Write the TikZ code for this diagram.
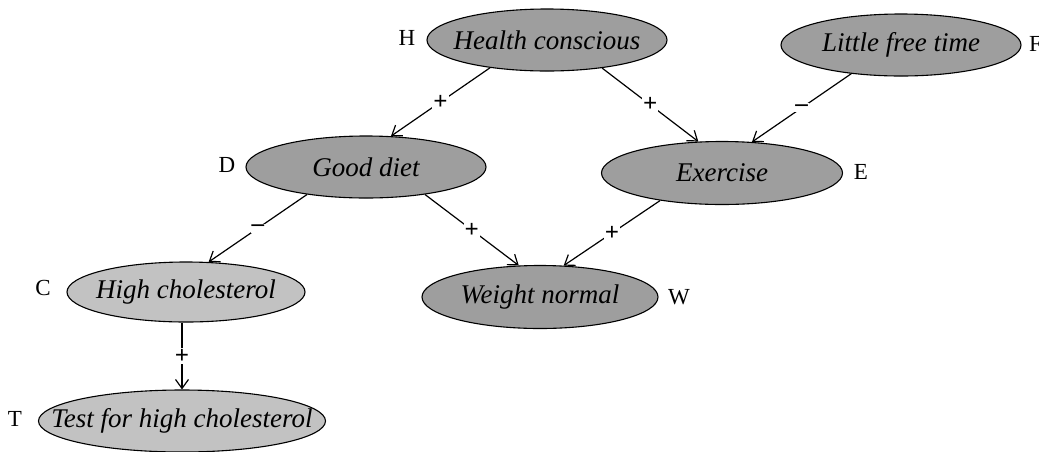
\documentclass[tikz,border=0pt]{standalone}
\usepackage{fontspec}
\setmainfont{Liberation Serif}
\usetikzlibrary{shapes.geometric,arrows.meta}
\begin{document}
\begin{tikzpicture}[x=1pt,y=-1pt,
  ell/.style={ellipse,draw=black,line width=1.1pt,minimum width=240pt,minimum height=62pt,inner sep=0pt},
  dark/.style={fill=black!38},
  light/.style={fill=black!24},
  nm/.style={font=\fontsize{27}{30}\selectfont\itshape,inner sep=0pt},
  lett/.style={font=\fontsize{23}{26}\selectfont,inner sep=0pt},
  edge/.style={line width=1.2pt,-{Straight Barb[length=9pt,width=13pt]}},
  sg/.style={fill=white,inner sep=1pt,font=\fontsize{25}{26}\selectfont\bfseries}
]
\useasboundingbox (0,0) rectangle (1039,451);

% ellipses
\node[ell,dark] (H) at (547,40) {};
\node[ell,dark] (F) at (901,45) {};
\node[ell,dark] (D) at (366,167) {};
\node[ell,dark,minimum width=241pt,minimum height=63pt] (E) at (722,173) {};
\node[ell,light,minimum width=238pt,minimum height=60pt] (C) at (186,292) {};
\node[ell,dark,minimum width=236pt,minimum height=63pt] (W) at (540,297) {};
\node[ell,light,minimum width=287pt] (T) at (182,421) {};

% texts
\node[nm] (Ht) at (H) {Health conscious};
\node[nm] (Ft) at (F) {Little free time};
\node[nm] (Dt) at (D) {Good diet};
\node[nm] (Et) at (E) {Exercise};
\node[nm] (Ct) at (C) {High cholesterol};
\node[nm] (Wt) at (W) {Weight normal};
\node[nm] (Tt) at (T) {Test for high cholesterol};

% letters
\node[lett] (Hl) at (407,38) {H};
\node[lett,anchor=west] (Fl) at (1029,44) {F};
\node[lett] (Dl) at (227,165) {D};
\node[lett] (El) at (861,172) {E};
\node[lett] (Cl) at (43,288) {C};
\node[lett] (Wl) at (679,297) {W};
\node[lett] (Tl) at (15,419) {T};

% edges
\draw[edge] (H.206) -- node[sg] {+} (D.51);
\draw[edge] (H.333) -- node[sg] {+} (E.127);
\draw[edge] (F.210) -- node[sg] {–} (E.46);
\draw[edge] (D.205) -- node[sg] {–} (C.53);
\draw[edge] (D.335) -- node[sg] {+} (W.124);
\draw[edge] (E.204) -- node[sg] {+} (W.53);
\draw[edge] (T.north |- C.south) -- node[sg] {+} (T.north);
\end{tikzpicture}
\end{document}
